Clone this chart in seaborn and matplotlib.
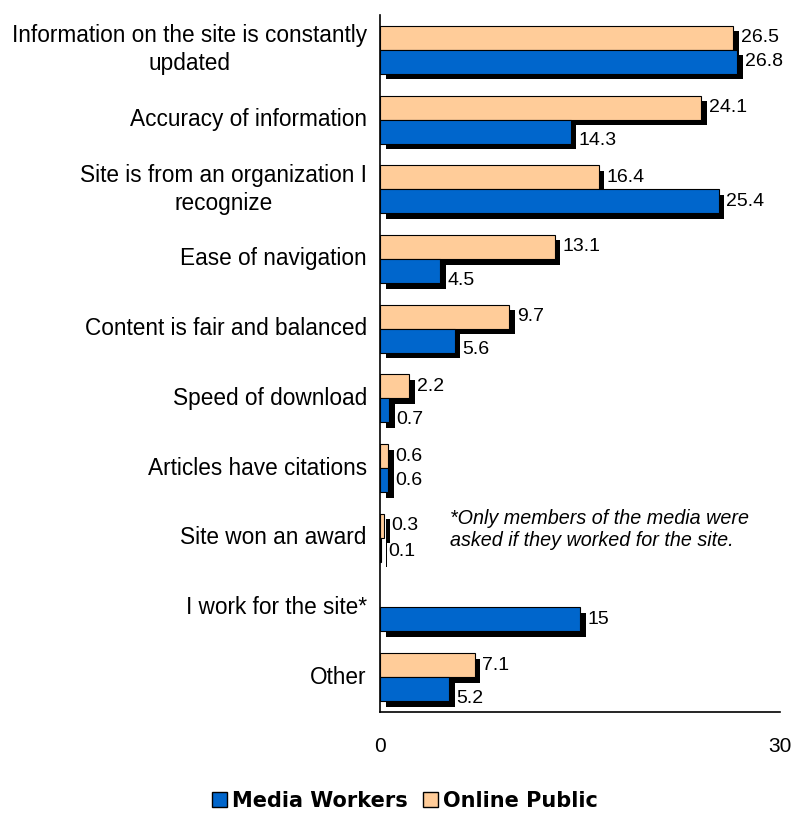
import matplotlib
matplotlib.use("Agg")
import matplotlib.pyplot as plt
import matplotlib.patheffects as pe
from matplotlib.patches import Patch
import numpy as np
import pandas as pd
import seaborn as sns

categories = [
    "Information on the site is constantly\nupdated",
    "Accuracy of information",
    "Site is from an organization I\nrecognize",
    "Ease of navigation",
    "Content is fair and balanced",
    "Speed of download",
    "Articles have citations",
    "Site won an award",
    "I work for the site*",
    "Other",
]
online_public = [26.5, 24.1, 16.4, 13.1, 9.7, 2.2, 0.6, 0.3, np.nan, 7.1]
media_workers = [26.8, 14.3, 25.4, 4.5, 5.6, 0.7, 0.6, 0.1, 15, 5.2]
series_names = ["Online Public", "Media Workers"]
colors = {"Online Public": "#FFCC99", "Media Workers": "#0066CC"}

df = pd.DataFrame({
    "category": categories * 2,
    "series": ["Online Public"] * len(categories) + ["Media Workers"] * len(categories),
    "value": online_public + media_workers,
})

sns.set_style("white")
plt.rcParams["font.family"] = ["Liberation Sans", "DejaVu Sans"]
plt.rcParams["text.color"] = "black"
plt.rcParams["axes.labelcolor"] = "black"
plt.rcParams["xtick.color"] = "black"
plt.rcParams["ytick.color"] = "black"

fig = plt.figure(figsize=(8.06, 8.13), dpi=100)
ax = fig.add_axes([380 / 806, 1 - 712 / 813, 400 / 806, (712 - 15) / 813])

sns.barplot(data=df.dropna(), x="value", y="category", hue="series",
            order=categories, hue_order=series_names, palette=colors,
            orient="h", width=0.69, edgecolor="black", linewidth=0.8,
            saturation=1, ax=ax, legend=False)

shadow = [pe.SimplePatchShadow(offset=(4, -4), shadow_rgbFace="black", alpha=1.0), pe.Normal()]
for si, cont in enumerate(ax.containers):
    for bar in cont:
        bar.set_path_effects(shadow)
        w = bar.get_width()
        if np.isnan(w):
            continue
        yc = bar.get_y() + bar.get_height() / 2
        # Excel-like nudge: lower label moves down when upper bar's shadow is in the way
        if si == 1:
            ci = int(round(yc))
            other = online_public[ci]
            if not np.isnan(other) and other > w:
                yc += 0.13 if other - w > 0.5 else 0.03
        ax.text(w + 0.55, yc, f"{w:g}", va="center", ha="left", fontsize=14, color="black")

ax.set_xlim(0, 30)
ax.set_ylim(len(categories) - 0.5, -0.5)
ax.set_xticks([0, 30])
ax.set_xticklabels(["0", "30"], fontsize=15)
ax.set_yticks(range(len(categories)))
ax.set_yticklabels(categories, fontsize=16.3, linespacing=1.28)
ax.set_yticks(np.arange(-0.5, len(categories), 1.0), minor=True)
ax.tick_params(axis="y", which="major", length=0, pad=9.5, labelcolor="black")
ax.tick_params(axis="y", which="minor", length=6, width=1.2, color="black", direction="out")
ax.tick_params(axis="x", which="major", length=6, width=1.2, color="black", direction="inout",
               pad=15, labelcolor="black")
ax.set_xlabel("")
ax.set_ylabel("")
for s in ["top", "right"]:
    ax.spines[s].set_visible(False)
for s in ["left", "bottom"]:
    ax.spines[s].set_color("black")
    ax.spines[s].set_linewidth(1.2)
for lbl in ax.get_yticklabels():
    lbl.set_multialignment("center")
    lbl.set_verticalalignment("center")

ax.text(0.175, 0.262, "*Only members of the media were\nasked if they worked for the site.",
        transform=ax.transAxes, fontsize=14.2, style="italic", ha="left", va="center",
        linespacing=1.25, color="black")

handles = [Patch(facecolor=colors["Media Workers"], edgecolor="black", linewidth=1),
           Patch(facecolor=colors["Online Public"], edgecolor="black", linewidth=1)]
leg = fig.legend(handles, ["Media Workers", "Online Public"], loc="center",
                 bbox_to_anchor=(405 / 806, 1 - 801 / 813), ncol=2, frameon=False,
                 handlelength=0.7, handleheight=0.7, handletextpad=0.25, columnspacing=0.75,
                 prop={"family": "DejaVu Sans", "weight": "bold", "size": 15})
for t in leg.get_texts():
    t.set_color("black")

fig.savefig("out.png", dpi=100)
